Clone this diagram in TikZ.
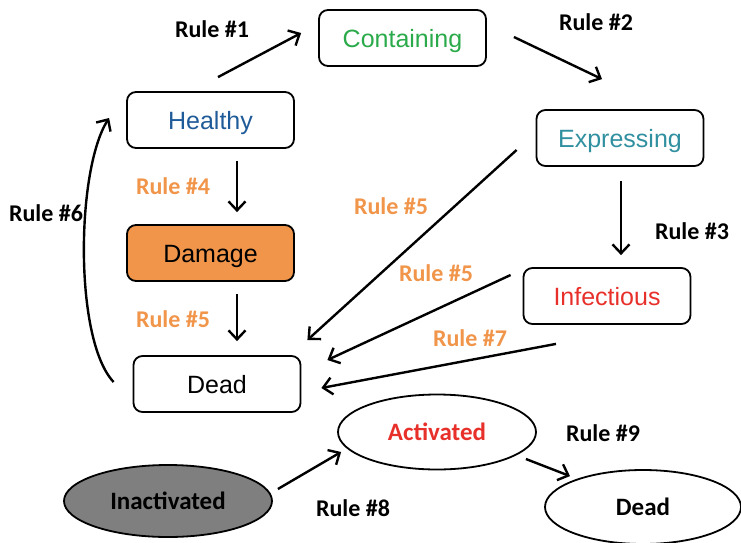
\documentclass[tikz,border=0pt]{standalone}
\usepackage{fontspec}
\setmainfont{Liberation Sans}
\newfontfamily\calfont{Carlito}
\usetikzlibrary{arrows.meta,shapes.geometric}
\definecolor{cgreen}{HTML}{2AAA4A}
\definecolor{cblue}{HTML}{1F5B98}
\definecolor{cteal}{HTML}{3190A0}
\definecolor{cred}{HTML}{E8302A}
\definecolor{corange}{HTML}{F0954A}
\definecolor{cgray}{HTML}{7F7F7F}
\tikzset{
  box/.style={draw=black, line width=1.8pt, rounded corners=9pt, minimum width=167pt, minimum height=56pt, inner sep=0pt, text height=19pt, text depth=0pt, font=\fontsize{25}{28}\selectfont},
  oval/.style={draw=black, line width=1.8pt, ellipse, inner sep=0pt, font=\calfont\bfseries\fontsize{25}{28}\selectfont},
  rlabel/.style={font=\calfont\bfseries\fontsize{24}{26}\selectfont},
  olabel/.style={rlabel, text=corange},
  conn/.style={line width=2.4pt, -{Straight Barb[length=9pt,width=17pt,line width=2.4pt]}}
}
\begin{document}
\begin{tikzpicture}[x=1pt,y=-1pt]
\useasboundingbox (0,0) rectangle (741,543);
% nodes
\node[box, text=cgreen] (containing) at (402.5,38) {Containing};
\node[box, text=cblue] (healthy) at (210.5,120) {Healthy};
\node[box, text=cteal] (expressing) at (620,138) {Expressing};
\node[box, fill=corange] (damage) at (210.5,253) {Damage};
\node[box, text=cred] (infectious) at (607,296) {Infectious};
\node[box] (dead) at (217,384) {Dead};
\node[oval, minimum width=198pt, minimum height=75pt, text=cred] (activated) at (437,432) {Activated};
\node[oval, minimum width=208pt, minimum height=72pt, fill=cgray] (inactivated) at (168,501) {Inactivated};
\node[oval, minimum width=196pt, minimum height=74pt] (dead2) at (643,507) {Dead};
% connectors
\draw[conn] ([shift={(7.5,-14)}]healthy.north) -- ([shift={(-17,-5)}]containing.west);
\draw[conn] ([shift={(27,-1)}]containing.east) -- ([shift={(-18,-30)}]expressing.north);
\draw[conn] ([shift={(26.5,12)}]healthy.south) -- ([shift={(26.5,-12)}]damage.north);
\draw[conn] ([shift={(26.5,12)}]damage.south) -- ([shift={(20,-14)}]dead.north);
\draw[conn] ([shift={(1,14)}]expressing.south) -- ([shift={(14,-12)}]infectious.north);
\draw[conn] ([shift={(-19,12)}]expressing.west) -- ([shift={(6,-44)}]dead.east);
\draw[conn] ([shift={(-12,-21)}]infectious.west) -- ([shift={(26,-24)}]dead.east);
\draw[conn] ([shift={(-51,19)}]infectious.south) -- ([shift={(20,4)}]dead.east);
\draw[conn] ([shift={(-19,-2)}]dead.west) .. controls (74,340) and (76,170) .. ([shift={(-17,-2)}]healthy.west);
\draw[conn] ([shift={(5,-12)}]inactivated.east) -- ([shift={(4,20)}]activated.west);
\draw[conn] ([shift={(-11,27)}]activated.east) -- ([shift={(-73,7)}]dead2.north);
% labels
\node[rlabel] (r1) at (212,29) {Rule \#1};
\node[rlabel] (r2) at (596,22) {Rule \#2};
\node[rlabel] (r3) at (692,231) {Rule \#3};
\node[olabel] (r4) at (173,186) {Rule \#4};
\node[olabel] (r5a) at (173,319) {Rule \#5};
\node[rlabel] (r6) at (46,213) {Rule \#6};
\node[olabel] (r5b) at (391,206) {Rule \#5};
\node[olabel] (r5c) at (436,273) {Rule \#5};
\node[olabel] (r7) at (470,338) {Rule \#7};
\node[rlabel] (r9) at (603,433) {Rule \#9};
\node[rlabel] (r8) at (353,508) {Rule \#8};
\end{tikzpicture}
\end{document}
